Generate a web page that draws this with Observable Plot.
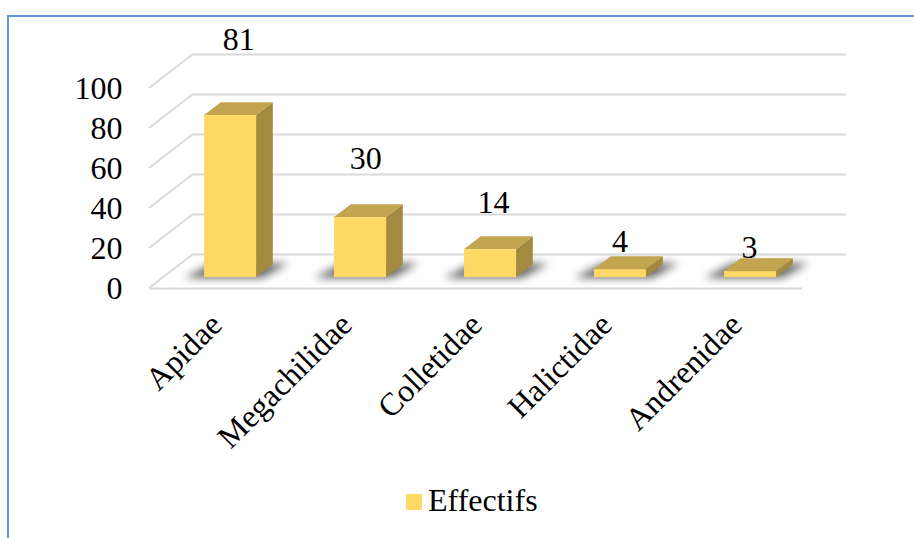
<!DOCTYPE html>
<html>
<head>
<meta charset="utf-8">
<script src="https://cdn.jsdelivr.net/npm/d3@7"></script>
<script src="https://cdn.jsdelivr.net/npm/@observablehq/plot@0.6"></script>
<style>
  body { margin: 0; background: #fff; font-family: "Liberation Serif", "Times New Roman", serif; }
  #frame { position: absolute; left: 7px; top: 15px; width: 1000px; height: 600px;
           border-top: 2px solid #5B9BD5; border-left: 2px solid #5B9BD5; }
  #chart { position: absolute; left: 0; top: 0; }
  #legend { position: absolute; left: 406px; top: 482px; display: flex; align-items: center;
            font-size: 32px; color: #000; }
  #legend .sw { width: 16px; height: 16px; margin-right: 6px; margin-top: 2px; }
</style>
</head>
<body>
<div id="frame"></div>
<div id="chart"></div>
<div id="legend"></div>
<script>
// Bee families and their counts
const families = ["Apidae", "Megachilidae", "Colletidae", "Halictidae", "Andrenidae"];
const effectifs = [81, 30, 14, 4, 3];
const yTicks = [0, 20, 40, 60, 80, 100];
const seriesName = "Effectifs";

const data = families.map((family, i) => ({family, value: effectifs[i]}));

const FRONT = "#FFD966", TOP = "#C4A54F", SIDE = "#A48A3F", GRID = "#D9D9D9";
const depth = [44, -34];          // floor depth (px) from front edge to back wall
const barNear = 0.32, barFar = 0.70; // bar placement along the floor depth
const FONT = "'Liberation Serif', 'Times New Roman', serif";
const FS = 32;

// gap between a bar's top and its value label, growing with bar height
const labelGap = v => 17.2 * Math.log1p(v) - 10.9;

// Perspective walls, bar shadows, 3D bar faces and value labels
function scene(...args) {
  const s = args.find(a => a && typeof a.x === "function" && typeof a.y === "function");
  const dims = args.find(a => a && typeof a.width === "number" && typeof a.marginLeft === "number");
  const x = s.x, y = s.y, bw = x.bandwidth();
  const [ddx, ddy] = depth;
  const g = d3.create("svg:g");

  g.append("defs").append("filter").attr("id", "barShadow")
    .attr("x", "-50%").attr("y", "-100%").attr("width", "200%").attr("height", "300%")
    .append("feGaussianBlur").attr("stdDeviation", 4);

  const x0 = dims.marginLeft;
  // left wall diagonals
  g.append("g").selectAll("line").data(yTicks).join("line")
    .attr("x1", x0).attr("y1", v => y(v))
    .attr("x2", x0 + ddx).attr("y2", v => y(v) + ddy)
    .attr("stroke", GRID).attr("stroke-width", 1.8);

  const nx = barNear * ddx, ny = barNear * ddy;
  const fx = (barFar - barNear) * ddx, fy = (barFar - barNear) * ddy;

  const bars = g.append("g").selectAll("g").data(data).join("g");

  // soft shadow on the floor
  bars.append("polygon")
    .attr("points", d => {
      const bx = x(d.family) + nx, by = y(0) + ny;
      return [[bx - 20, by + 1], [bx + bw + 6, by + 1], [bx + bw + fx + 16, by + fy - 1], [bx + fx - 8, by + fy - 1]]
        .map(p => p.join(",")).join(" ");
    })
    .attr("fill", "#000").attr("fill-opacity", 0.6).attr("filter", "url(#barShadow)");

  // side face
  bars.append("polygon")
    .attr("points", d => {
      const bx = x(d.family) + nx + bw, by = y(0) + ny, ty = y(d.value) + ny;
      return [[bx, ty], [bx + fx, ty + fy], [bx + fx, by + fy], [bx, by]].map(p => p.join(",")).join(" ");
    })
    .attr("fill", SIDE);

  // top face
  bars.append("polygon")
    .attr("points", d => {
      const bx = x(d.family) + nx, ty = y(d.value) + ny;
      return [[bx, ty], [bx + bw, ty], [bx + bw + fx, ty + fy], [bx + fx, ty + fy]].map(p => p.join(",")).join(" ");
    })
    .attr("fill", TOP);

  // front face
  bars.append("rect")
    .attr("x", d => x(d.family) + nx)
    .attr("y", d => y(d.value) + ny)
    .attr("width", bw)
    .attr("height", d => y(0) - y(d.value))
    .attr("fill", FRONT);

  // value labels
  g.append("g").selectAll("text").data(data).join("text")
    .attr("x", d => x(d.family) + nx + bw / 2 - 3 + 0.18 * labelGap(d.value))
    .attr("y", d => y(d.value) + ny - labelGap(d.value))
    .attr("text-anchor", "middle")
    .attr("font-family", FONT).attr("font-size", FS).attr("fill", "#000")
    .text(d => d.value);

  return g.node();
}

const chart = Plot.plot({
  width: 914,
  height: 470,
  marginLeft: 149,
  marginRight: 112,
  marginTop: 88,
  marginBottom: 182,
  style: {fontFamily: FONT, fontSize: FS + "px", color: "#000", background: "transparent", overflow: "visible"},
  x: {type: "band", domain: families, paddingInner: 0.6, paddingOuter: 0.3, axis: null},
  y: {domain: [0, 100], axis: null},
  marks: [
    // back wall gridlines
    Plot.ruleY(yTicks, {dx: depth[0], dy: depth[1], stroke: GRID, strokeWidth: 1.8}),
    // front edge of the floor
    Plot.ruleY([0], {stroke: GRID, strokeWidth: 1.8}),
    scene,
    Plot.axisY(yTicks, {tickSize: 0, tickPadding: 27, fontSize: FS, fill: "#000", label: null}),
    Plot.text(families, {x: d => d, y: () => 0, dy: 31, rotate: -45, textAnchor: "end",
                         fontSize: FS, fill: "#000"})
  ]
});
document.getElementById("chart").appendChild(chart);

// legend
const legend = document.getElementById("legend");
const sw = document.createElement("span");
sw.className = "sw";
sw.style.background = FRONT;
const lab = document.createElement("span");
lab.textContent = seriesName;
legend.append(sw, lab);
</script>
</body>
</html>
